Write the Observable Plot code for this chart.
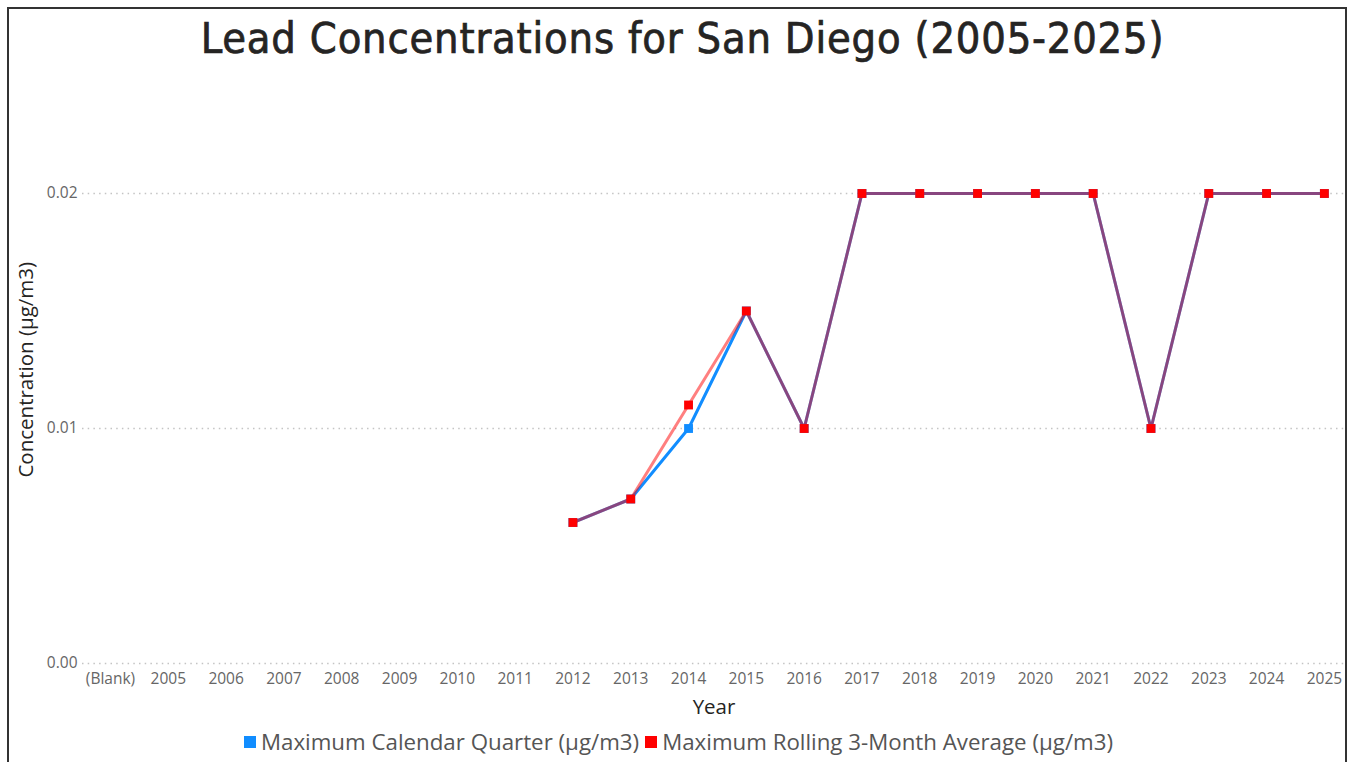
<!DOCTYPE html>
<html>
<head>
<meta charset="utf-8">
<script src="https://cdn.jsdelivr.net/npm/d3@7"></script>
<script src="https://cdn.jsdelivr.net/npm/@observablehq/plot@0.6"></script>
<style>
  html, body { margin: 0; padding: 0; background: #fff; width: 1353px; height: 762px; overflow: hidden; }
  #frame { position: absolute; left: 7px; top: 7px; width: 1340px; height: 800px; border: 2px solid #333; border-bottom: none; pointer-events: none; box-sizing: border-box; }
  #title { height: 70px; line-height: 76px; text-align: center; padding-left: 12px; font-family: "DejaVu Sans Condensed", "DejaVu Sans"; font-size: 43px; letter-spacing: 0.8px; -webkit-text-stroke: 0.7px #252423; color: #252423; white-space: nowrap; }
  #chart svg { display: block; }
  g[aria-label="x-axis label"] text, g[aria-label="y-axis label"] text { fill: #252423; font-size: 20.5px; }
  #legend { height: 37px; display: flex; justify-content: center; align-items: center; font-family: "Open Sans"; font-size: 22.3px; color: #555; padding-left: 10px; margin-top: -2px; }
  .item { display: flex; align-items: center; margin-right: 6px; }
  .sw { width: 12px; height: 12px; margin-right: 5px; }
</style>
</head>
<body>
<div id="frame"></div>
<div id="title">Lead Concentrations for San Diego (2005-2025)</div>
<div id="chart"></div>
<div id="legend"></div>
<script>
const categories = ["(Blank)", "2005", "2006", "2007", "2008", "2009", "2010", "2011", "2012", "2013", "2014", "2015", "2016", "2017", "2018", "2019", "2020", "2021", "2022", "2023", "2024", "2025"];
const dataYears = ["2012", "2013", "2014", "2015", "2016", "2017", "2018", "2019", "2020", "2021", "2022", "2023", "2024", "2025"];
const quarterValues = [0.006, 0.007, 0.010, 0.015, 0.010, 0.02, 0.02, 0.02, 0.02, 0.02, 0.01, 0.02, 0.02, 0.02];
const rollingValues = [0.006, 0.007, 0.011, 0.015, 0.010, 0.02, 0.02, 0.02, 0.02, 0.02, 0.01, 0.02, 0.02, 0.02];
const yTicks = [0, 0.01, 0.02];
const seriesNames = ["Maximum Calendar Quarter (µg/m3)", "Maximum Rolling 3-Month Average (µg/m3)"];
const seriesColors = ["#118DFF", "#FF0000"];

const quarter = dataYears.map((year, i) => ({year, value: quarterValues[i]}));
const rolling = dataYears.map((year, i) => ({year, value: rollingValues[i]}));
const fmt = d3.format(".2f");

const chart = Plot.plot({
  width: 1353,
  height: 655,
  marginTop: 5.5,
  marginBottom: 62,
  marginLeft: 82,
  marginRight: 8,
  style: {fontFamily: "Open Sans", fontSize: "15.5px", color: "#666", background: "transparent"},
  x: {type: "point", domain: categories, padding: 0.425, align: 0.57, round: false},
  y: {domain: [0, 0.025]},
  marks: [
    Plot.ruleY(yTicks, {stroke: "#c4c4c4", strokeWidth: 1.5, strokeDasharray: "1.5,4.2"}),
    Plot.axisX({tickSize: 0, tickPadding: 9, label: "Year", labelAnchor: "center", labelOffset: 50, labelArrow: "none", fill: "#666"}),
    Plot.axisY(yTicks, {tickSize: 0, tickPadding: 5, tickFormat: fmt, label: "Concentration (µg/m3)", labelAnchor: "center", labelOffset: 64, labelArrow: "none", fill: "#666"}),
    Plot.line(quarter, {x: "year", y: "value", stroke: seriesColors[0], strokeWidth: 3}),
    Plot.dot(quarter, {x: "year", y: "value", symbol: "square", r: 5, fill: seriesColors[0]}),
    Plot.line(rolling, {x: "year", y: "value", stroke: seriesColors[1], strokeOpacity: 0.5, strokeWidth: 3}),
    Plot.dot(rolling, {x: "year", y: "value", symbol: "square", r: 5, fill: seriesColors[1]})
  ]
});
document.getElementById("chart").appendChild(chart);

const legend = document.getElementById("legend");
seriesNames.forEach((name, i) => {
  const it = document.createElement("div");
  it.className = "item";
  const sw = document.createElement("span");
  sw.className = "sw";
  sw.style.background = seriesColors[i];
  it.appendChild(sw);
  it.appendChild(document.createTextNode(name));
  legend.appendChild(it);
});
</script>
</body>
</html>
